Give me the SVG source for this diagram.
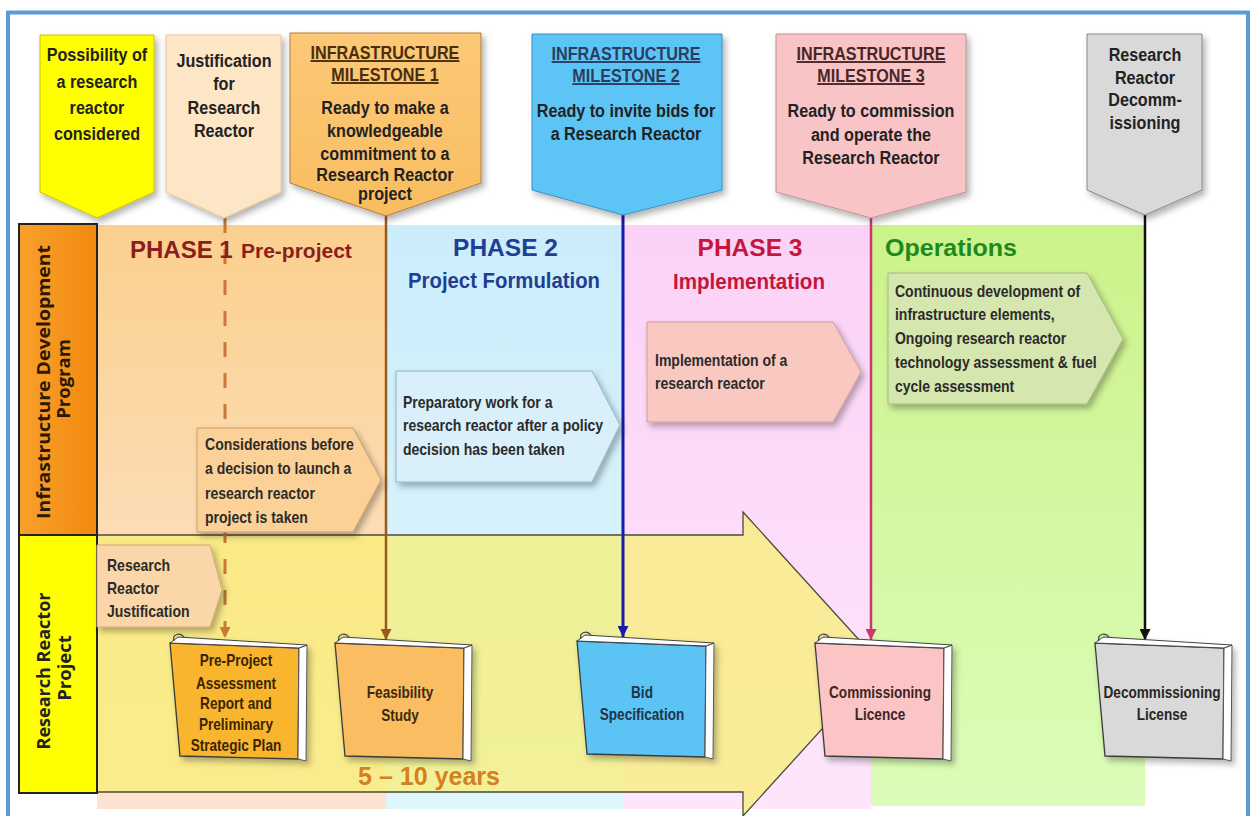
<svg xmlns="http://www.w3.org/2000/svg" width="1254" height="816" viewBox="0 0 1254 816">
<defs>
<style>
.t{font-family:"Liberation Sans",Arial,sans-serif;font-weight:bold;}
.ms{font-size:19px;fill:#222;}
.co{font-size:16.5px;fill:#2b2b2b;}
.bk{font-size:16px;}
.lab{font-family:"Open Sans","Liberation Sans",sans-serif;font-weight:bold;font-size:18.5px;}
.u{text-decoration:underline;}
.sh{filter:url(#shadow);}
.bkline{stroke:#3a3a3a;stroke-width:1.3;}
</style>
<filter id="shadow" x="-15%" y="-15%" width="140%" height="150%">
<feDropShadow dx="3" dy="4" stdDeviation="3" flood-color="#000" flood-opacity="0.3"/>
</filter>
<linearGradient id="gPh1" x1="0" y1="0" x2="0" y2="1">
<stop offset="0" stop-color="#fbd08e"/><stop offset="0.5" stop-color="#fddcb4"/><stop offset="1" stop-color="#fde3d2"/>
</linearGradient>
<linearGradient id="gPh2" x1="0" y1="0" x2="0" y2="1">
<stop offset="0" stop-color="#cbedfb"/><stop offset="1" stop-color="#e0f6fd"/>
</linearGradient>
<linearGradient id="gPh3" x1="0" y1="0" x2="0" y2="1">
<stop offset="0" stop-color="#fbd2f6"/><stop offset="1" stop-color="#fde6fb"/>
</linearGradient>
<linearGradient id="gOps" x1="0" y1="0" x2="0" y2="1">
<stop offset="0" stop-color="#ccf28a"/><stop offset="1" stop-color="#dcfdb9"/>
</linearGradient>
<linearGradient id="gOrg" x1="0" y1="0" x2="1" y2="0">
<stop offset="0" stop-color="#f8a02c"/><stop offset="1" stop-color="#f28a0e"/>
</linearGradient>
<linearGradient id="gMs1" x1="0" y1="0" x2="0" y2="1">
<stop offset="0" stop-color="#fcc978"/><stop offset="1" stop-color="#f9bd60"/>
</linearGradient>
<marker id="ahDash" viewBox="0 0 10 10" refX="10" refY="5" markerWidth="11" markerHeight="11" markerUnits="userSpaceOnUse" orient="auto"><path d="M0,0 L10,5 L0,10 Z" fill="#c8793a"/></marker>
<marker id="ahBrown" viewBox="0 0 10 10" refX="10" refY="5" markerWidth="11" markerHeight="11" markerUnits="userSpaceOnUse" orient="auto"><path d="M0,0 L10,5 L0,10 Z" fill="#9a5a1e"/></marker>
<marker id="ahBlue" viewBox="0 0 10 10" refX="10" refY="5" markerWidth="11" markerHeight="11" markerUnits="userSpaceOnUse" orient="auto"><path d="M0,0 L10,5 L0,10 Z" fill="#1a1aa8"/></marker>
<marker id="ahPink" viewBox="0 0 10 10" refX="10" refY="5" markerWidth="11" markerHeight="11" markerUnits="userSpaceOnUse" orient="auto"><path d="M0,0 L10,5 L0,10 Z" fill="#c63a6c"/></marker>
<marker id="ahBlack" viewBox="0 0 10 10" refX="10" refY="5" markerWidth="11" markerHeight="11" markerUnits="userSpaceOnUse" orient="auto"><path d="M0,0 L10,5 L0,10 Z" fill="#111"/></marker>
<g id="book">
<path d="M0,11 L129,16 L128,127 L10,124 Z" class="bkline"/>
<path d="M129,16 L137,13 L136,129 L128,127 Z" fill="#ffffff" stroke="#555" stroke-width="1"/>
<path d="M0,11 L8,5 L137,13 L129,16 Z" fill="#ffffff" stroke="#444" stroke-width="1"/>
<path d="M4,9 C2,2 10,0 14,5" fill="none" stroke="#444" stroke-width="1.2"/>
</g>
</defs>

<rect x="8" y="12.5" width="1240" height="815" fill="#ffffff" stroke="#5b9bd5" stroke-width="4"/>

<g id="bands">
<rect x="97" y="225" width="289" height="584" fill="url(#gPh1)"/>
<rect x="386" y="225" width="237" height="584" fill="url(#gPh2)"/>
<rect x="623" y="225" width="248" height="584" fill="url(#gPh3)"/>
<rect x="871" y="225" width="274" height="581" fill="url(#gOps)"/>
</g>

<g id="timeline-arrow">
<path d="M97,535 H743 V512 L881,664 L743,816 V792 H97 Z" fill="#f8ef76" fill-opacity="0.74" stroke="#4a4a3a" stroke-width="1.3"/>
</g>

<g id="lane-infrastructure">
<rect x="19" y="224" width="78" height="311" fill="url(#gOrg)" stroke="#222" stroke-width="2"/>
<text class="lab" fill="#2a1800" text-anchor="middle" transform="translate(50,382) rotate(-90)" textLength="274" lengthAdjust="spacingAndGlyphs">Infrastructure Development</text>
<text class="lab" fill="#2a1800" text-anchor="middle" transform="translate(70,379) rotate(-90)">Program</text>
</g>
<g id="lane-project">
<rect x="19" y="535" width="78" height="258" fill="#ffff00" stroke="#222" stroke-width="2"/>
<text class="lab" fill="#222" text-anchor="middle" transform="translate(50,671) rotate(-90)" textLength="157" lengthAdjust="spacingAndGlyphs">Research Reactor</text>
<text class="lab" fill="#222" text-anchor="middle" transform="translate(71,668) rotate(-90)">Project</text>
</g>

<g id="connectors">
<line x1="225" y1="218" x2="225" y2="638" stroke="#c8793a" stroke-width="3" stroke-dasharray="15 16" marker-end="url(#ahDash)"/>
<line x1="386" y1="214" x2="386" y2="640" stroke="#9a5a1e" stroke-width="2.5" marker-end="url(#ahBrown)"/>
<line x1="623" y1="213" x2="623" y2="637" stroke="#1a1aa8" stroke-width="3" marker-end="url(#ahBlue)"/>
<line x1="871" y1="216" x2="871" y2="640" stroke="#c63a6c" stroke-width="2.5" marker-end="url(#ahPink)"/>
<line x1="1145" y1="213" x2="1145" y2="640" stroke="#111" stroke-width="2.5" marker-end="url(#ahBlack)"/>
</g>

<g id="ms-possibility">
<path class="sh" d="M40,35 H154 V192 L97,218 L40,192 Z" fill="#ffff00" stroke="#cbc200" stroke-width="1"/>
<g transform="scale(0.85,1)" class="t ms" text-anchor="middle">
<text x="114.1" y="61">Possibility of</text>
<text x="114.1" y="88">a research</text>
<text x="114.1" y="114">reactor</text>
<text x="114.1" y="140">considered</text>
</g>
</g>

<g id="ms-justification">
<path class="sh" d="M166,35 H281 V192 L224,218 L166,192 Z" fill="#fde6c6" stroke="#e6c79c" stroke-width="1"/>
<g transform="scale(0.85,1)" class="t ms" text-anchor="middle">
<text x="263.5" y="67">Justification</text>
<text x="263.5" y="90">for</text>
<text x="263.5" y="114">Research</text>
<text x="263.5" y="137">Reactor</text>
</g>
</g>

<g id="ms-milestone1">
<path class="sh" d="M290,33 H481 V183 L386,216 L290,183 Z" fill="url(#gMs1)" stroke="#b07c3c" stroke-width="1"/>
<g transform="scale(0.85,1)" class="t ms" text-anchor="middle">
<text x="452.9" y="59" class="u" fill="#4a2e0c">INFRASTRUCTURE</text>
<text x="452.9" y="81" class="u" fill="#4a2e0c">MILESTONE 1</text>
<text x="452.9" y="114">Ready to make a</text>
<text x="452.9" y="137">knowledgeable</text>
<text x="452.9" y="160">commitment to a</text>
<text x="452.9" y="181">Research Reactor</text>
<text x="452.9" y="200">project</text>
</g>
</g>

<g id="ms-milestone2">
<path class="sh" d="M532,34 H722 V190 L623,215 L532,190 Z" fill="#5dc5f6" stroke="#3a8fc0" stroke-width="1"/>
<g transform="scale(0.85,1)" class="t ms" text-anchor="middle">
<text x="736.5" y="60" class="u" fill="#2b3d60">INFRASTRUCTURE</text>
<text x="736.5" y="82" class="u" fill="#2b3d60">MILESTONE 2</text>
<text x="736.5" y="117">Ready to invite bids for</text>
<text x="736.5" y="140">a Research Reactor</text>
</g>
</g>

<g id="ms-milestone3">
<path class="sh" d="M776,34 H966 V192 L871,218 L776,192 Z" fill="#f9c4c6" stroke="#c09090" stroke-width="1"/>
<g transform="scale(0.85,1)" class="t ms" text-anchor="middle">
<text x="1024.7" y="60" class="u" fill="#4a2626">INFRASTRUCTURE</text>
<text x="1024.7" y="82" class="u" fill="#4a2626">MILESTONE 3</text>
<text x="1024.7" y="117">Ready to commission</text>
<text x="1024.7" y="141">and operate the</text>
<text x="1024.7" y="164">Research Reactor</text>
</g>
</g>

<g id="ms-decommissioning">
<path class="sh" d="M1087,34 H1202 V190 L1145,215 L1087,190 Z" fill="#d9d9d9" stroke="#888" stroke-width="1"/>
<g transform="scale(0.85,1)" class="t ms" text-anchor="middle">
<text x="1347.1" y="61">Research</text>
<text x="1347.1" y="84">Reactor</text>
<text x="1347.1" y="106">Decomm-</text>
<text x="1347.1" y="129">issioning</text>
</g>
</g>

<g id="phase1">
<text class="t" x="130" y="258" font-size="24" fill="#8b1e1e">PHASE 1<tspan x="241" font-size="21">Pre-project</tspan></text>
</g>
<g id="phase2">
<text class="t" x="505.5" y="256" font-size="24.5" fill="#213e91" text-anchor="middle">PHASE 2</text>
<text class="t" x="504" y="288" font-size="21.5" fill="#213e91" text-anchor="middle" textLength="192" lengthAdjust="spacingAndGlyphs">Project Formulation</text>
</g>
<g id="phase3">
<text class="t" x="750" y="256" font-size="24.5" fill="#c4163c" text-anchor="middle">PHASE 3</text>
<text class="t" x="749" y="289" font-size="21.5" fill="#c4163c" text-anchor="middle" textLength="152" lengthAdjust="spacingAndGlyphs">Implementation</text>
</g>
<g id="operations">
<text class="t" x="885" y="256" font-size="24.5" fill="#1e8a1e" textLength="132" lengthAdjust="spacingAndGlyphs">Operations</text>
</g>

<g id="callout-considerations">
<path class="sh" d="M197,428 H353 L381,480 L353,532 H197 Z" fill="#fcd197" stroke="#c9a06e" stroke-width="1"/>
<g transform="scale(0.85,1)" class="t co">
<text x="241.2" y="450">Considerations before</text>
<text x="241.2" y="474">a decision to launch a</text>
<text x="241.2" y="499">research reactor</text>
<text x="241.2" y="523">project is taken</text>
</g>
</g>

<g id="callout-preparatory">
<path class="sh" d="M396,371 H592 L620,425 L592,482 H396 Z" fill="#d9eff9" stroke="#8fb3c9" stroke-width="1"/>
<g transform="scale(0.85,1)" class="t co">
<text x="474.1" y="408">Preparatory work for  a</text>
<text x="474.1" y="431">research reactor after a policy</text>
<text x="474.1" y="455">decision has been taken</text>
</g>
</g>

<g id="callout-implementation">
<path class="sh" d="M647,322 H833 L861,372 L833,422 H647 Z" fill="#f9c8c0" stroke="#d39c98" stroke-width="1"/>
<g transform="scale(0.85,1)" class="t co">
<text x="770.6" y="366">Implementation of a</text>
<text x="770.6" y="389">research reactor</text>
</g>
</g>

<g id="callout-operations">
<path class="sh" d="M888,273 H1087 L1123,339 L1087,404 H888 Z" fill="#d5e6ae" stroke="#a3b985" stroke-width="1"/>
<g transform="scale(0.85,1)" class="t co">
<text x="1052.9" y="297">Continuous development of</text>
<text x="1052.9" y="320">infrastructure elements,</text>
<text x="1052.9" y="344">Ongoing research reactor</text>
<text x="1052.9" y="368">technology assessment &amp;  fuel</text>
<text x="1052.9" y="392">cycle assessment</text>
</g>
</g>

<g id="callout-justification">
<path class="sh" d="M97,545 H210 L222,590 L210,627 H97 Z" fill="#fbd6a8" stroke="#d0a878" stroke-width="1"/>
<g transform="scale(0.85,1)" class="t co">
<text x="125.9" y="571">Research</text>
<text x="125.9" y="594">Reactor</text>
<text x="125.9" y="617">Justification</text>
</g>
</g>

<g id="book-preproject">
<use href="#book" x="170" y="632" fill="#f9b52e" class="sh"/>
<g transform="scale(0.85,1)" class="t bk" fill="#3a2500" text-anchor="middle">
<text x="277.6" y="666">Pre-Project</text>
<text x="277.6" y="689">Assessment</text>
<text x="277.6" y="709">Report and</text>
<text x="277.6" y="730">Preliminary</text>
<text x="277.6" y="751">Strategic Plan</text>
</g>
</g>

<g id="book-feasibility">
<use href="#book" x="335" y="632" fill="#fbbd62" class="sh"/>
<g transform="scale(0.85,1)" class="t bk" fill="#3a2a10" text-anchor="middle">
<text x="470.6" y="698">Feasibility</text>
<text x="470.6" y="721">Study</text>
</g>
</g>

<g id="book-bid">
<use href="#book" x="577" y="630" fill="#5bc3f5" class="sh"/>
<g transform="scale(0.85,1)" class="t bk" fill="#1f3448" text-anchor="middle">
<text x="755.3" y="698">Bid</text>
<text x="755.3" y="720">Specification</text>
</g>
</g>

<g id="book-commissioning">
<use href="#book" x="815" y="632" fill="#fbc5c5" class="sh"/>
<g transform="scale(0.85,1)" class="t bk" fill="#402424" text-anchor="middle">
<text x="1035.3" y="698">Commissioning</text>
<text x="1035.3" y="720">Licence</text>
</g>
</g>

<g id="book-decommissioning">
<use href="#book" x="1095" y="632" fill="#d9d9d9" class="sh"/>
<g transform="scale(0.85,1)" class="t bk" fill="#262626" text-anchor="middle">
<text x="1367.1" y="698">Decommissioning</text>
<text x="1367.1" y="720">License</text>
</g>
</g>

<g id="duration">
<text class="t" x="358" y="785" font-size="25" fill="#d5801f" textLength="142" lengthAdjust="spacingAndGlyphs">5 – 10 years</text>
</g>
</svg>
